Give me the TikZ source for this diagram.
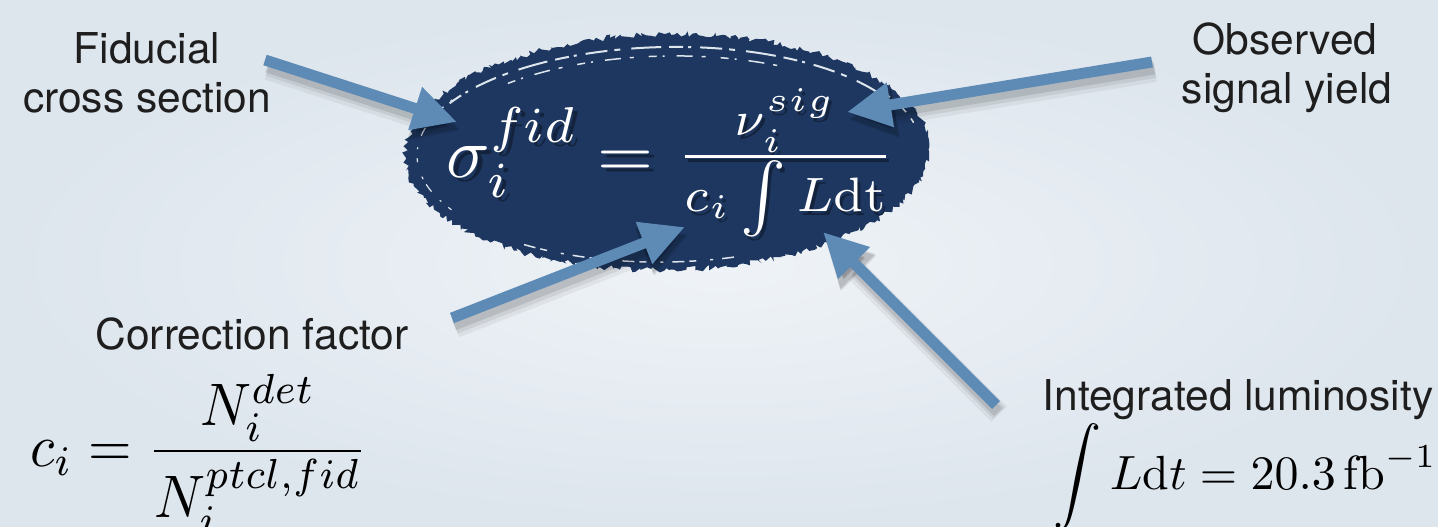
\documentclass[tikz,border=0pt]{standalone}
\usepackage{fontspec}
\newfontfamily\labfont{TeX Gyre Heros}
\usetikzlibrary{arrows.meta,decorations.pathmorphing}
\definecolor{bgout}{RGB}{221,229,237}
\definecolor{bgin}{RGB}{239,243,247}
\definecolor{navy}{RGB}{30,55,96}
\definecolor{arrowblue}{RGB}{94,139,182}
\definecolor{labtext}{RGB}{30,30,30}
\tikzset{
  lab/.style={font=\labfont\fontsize{42.5}{49}\selectfont, text=labtext, inner sep=0pt, anchor=base},
  formula/.style={text=white, inner sep=0pt, anchor=base west, transform shape},
  formulashadow/.style={text=black, opacity=0.35, inner sep=0pt, anchor=base west, transform shape},
  blackmath/.style={text=black, inner sep=0pt, anchor=base west, transform shape},
  arr/.style={draw=arrowblue, line width=11pt, -{Triangle[length=44pt,width=42pt]}},
  arrshadow/.style={draw=black, -{Triangle[length=46pt,width=46pt]}},
  streak/.style={draw=bgout, line width=2pt},
}
\begin{document}
\begin{tikzpicture}[x=1pt,y=-1pt]
\useasboundingbox (0,0) rectangle (1438,527);
\shade[inner color=bgin, outer color=bgout] (0,0) rectangle (1438,527);

% brushed ellipse
\coordinate (E) at (667,152);
\fill[navy, decorate, decoration={random steps,segment length=3pt,amplitude=3pt}, rotate around={1:(E)}]
  (E) ellipse [x radius=262, y radius=118];
\begin{scope}[rotate around={1:(E)}]
\draw[streak, dash pattern=on 14pt off 5pt on 3pt off 9pt on 22pt off 7pt on 6pt off 11pt on 30pt off 8pt]
  (E) ++(210:250 and 105) arc[start angle=210, end angle=330, x radius=250, y radius=105];
\draw[streak, line width=1.5pt, dash pattern=on 8pt off 6pt on 2pt off 12pt on 16pt off 9pt on 4pt off 15pt]
  (E) ++(228:236 and 96) arc[start angle=228, end angle=300, x radius=236, y radius=96];
\draw[streak, line width=1.2pt, dash pattern=on 4pt off 9pt on 2pt off 12pt on 9pt off 6pt on 3pt off 15pt]
  (E) ++(150:250 and 108) arc[start angle=150, end angle=212, x radius=250, y radius=108];
\draw[streak, line width=1.5pt, dash pattern=on 12pt off 9pt on 3pt off 14pt on 7pt off 5pt]
  (E) ++(75:252 and 110) arc[start angle=75, end angle=125, x radius=252, y radius=110];
\draw[streak, line width=1.5pt, dash pattern=on 5pt off 12pt on 10pt off 8pt]
  (E) ++(330:254 and 108) arc[start angle=330, end angle=352, x radius=254, y radius=108];
\end{scope}

% main formula
\node[formulashadow, scale=7.2] (lshadow) at (450,181) {$\sigma_i^{fid} =$};
\node[formulashadow, scale=6.9] (rshadow) at (678,178) {$\frac{\nu_i^{sig}}{c_i\int L\mathrm{dt}}$};
\node[formula, scale=7.2] (lhs) at (445,177) {$\sigma_i^{fid} =$};
\node[formula, scale=6.9] (rhs) at (675,174) {$\frac{\nu_i^{sig}}{c_i\int L\mathrm{dt}}$};

% labels
\node[lab] (fid1) at (147,64) {Fiducial};
\node[lab] (fid2) at (147,113) {cross section};
\node[lab] (obs1) at (1285,55) {Observed};
\node[lab] (obs2) at (1287,103) {signal yield};
\node[lab] (corr) at (252,349) {Correction factor};
\node[lab] (lumi) at (1238,410) {Integrated luminosity};

% bottom formulas
\node[blackmath, xscale=5.6, yscale=6.0] (cdef) at (29,466)
  {$\displaystyle c_i = \frac{N_i^{det}}{N_i^{ptcl,fid}}$};
\node[blackmath, scale=4.8] (ldef) at (1053,489)
  {$\displaystyle \int L\mathrm{d}t = 20.3\,\mathrm{fb}^{-1}$};

% arrows
\coordinate (a1s) at (265,60);   \coordinate (a1e) at (457,122);
\coordinate (a2s) at (1152,62);  \coordinate (a2e) at (847,112);
\coordinate (a3s) at (452,318);  \coordinate (a3e) at (685,227);
\coordinate (a4s) at (996,405);  \coordinate (a4e) at (823,232);
\foreach \s/\e in {a1s/a1e,a2s/a2e,a3s/a3e,a4s/a4e}{
  \draw[arrshadow, line width=22pt, opacity=0.05, transform canvas={shift={(3pt,-9pt)}}] (\s) -- (\e);
  \draw[arrshadow, line width=16pt, opacity=0.07, transform canvas={shift={(3pt,-8pt)}}] (\s) -- (\e);
  \draw[arrshadow, line width=11pt, opacity=0.10, transform canvas={shift={(2pt,-7pt)}}] (\s) -- (\e);
}
\draw[arr] (a1s) -- (a1e);
\draw[arr] (a2s) -- (a2e);
\draw[arr] (a3s) -- (a3e);
\draw[arr] (a4s) -- (a4e);
\end{tikzpicture}
\end{document}
